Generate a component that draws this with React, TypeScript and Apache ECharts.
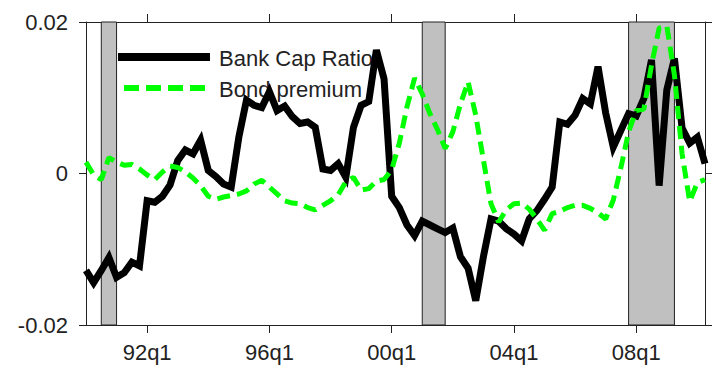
import React, { useEffect, useRef } from 'react';
import * as echarts from 'echarts';

// Quarterly categories 1990q1 .. 2010q2
const quarters: string[] = [];
for (let y = 1990; y <= 2010; y++) {
  for (let q = 1; q <= 4; q++) {
    if (y === 2010 && q > 2) break;
    quarters.push(`${y}q${q}`);
  }
}

const tickQuarters = ['1992q1', '1996q1', '2000q1', '2004q1', '2008q1'];
const tickLabels = ['92q1', '96q1', '00q1', '04q1', '08q1'];

const recessions: [string, string][] = [
  ['1990q3', '1991q1'],
  ['2001q1', '2001q4'],
  ['2007q4', '2009q2'],
];

const bankCapRatio = [
  -0.0128, -0.0144, -0.0128, -0.0111, -0.0137, -0.0131, -0.0117, -0.0122,
  -0.0036, -0.0038, -0.003, -0.0015, 0.0017, 0.0031, 0.0026, 0.0044,
  0.0004, -0.0004, -0.0014, -0.0018, 0.0048, 0.0097, 0.009, 0.0087,
  0.0108, 0.0083, 0.0089, 0.0075, 0.0066, 0.0068, 0.0061, 0.0006,
  0.0004, 0.0013, -0.0005, 0.0061, 0.009, 0.0095, 0.0163, 0.0125,
  -0.003, -0.0045, -0.0068, -0.0082, -0.0063, -0.0068, -0.0073, -0.0078,
  -0.0072, -0.011, -0.0125, -0.0168, -0.011, -0.006, -0.0063, -0.0073,
  -0.008, -0.0089, -0.006, -0.0049, -0.0034, -0.0018, 0.0068, 0.0065,
  0.0077, 0.0099, 0.0092, 0.0141, 0.008, 0.0035, 0.0057, 0.0079,
  0.0076, 0.0099, 0.015, -0.0016, 0.011, 0.0152, 0.006, 0.004,
  0.0048, 0.0013,
];

const bondPremium = [
  0.0015, -0.0002, -0.0008, 0.0021, 0.0015, 0.0011, 0.0012, 0.0006,
  -0.0002, -0.0008, 0.0002, 0.001, 0.0008, 0.0002, -0.0006, -0.0016,
  -0.003, -0.0034, -0.0031, -0.0029, -0.0027, -0.0023, -0.0014, -0.0009,
  -0.0018, -0.0027, -0.0036, -0.0039, -0.004, -0.0045, -0.0048, -0.0042,
  -0.0036, -0.0028, -0.0011, -0.0005, -0.0022, -0.002, -0.001, -0.0008,
  0.0005, 0.004, 0.0088, 0.0126, 0.0105, 0.0079, 0.0058, 0.0033,
  0.0055, 0.0092, 0.0121, 0.0077, 0.0018, -0.004, -0.0064, -0.0048,
  -0.004, -0.0039, -0.0047, -0.006, -0.0075, -0.0053, -0.005, -0.0045,
  -0.0042, -0.0042, -0.0046, -0.0052, -0.006, -0.0035, 0.0008, 0.0055,
  0.0083, 0.0085, 0.0143, 0.0192, 0.0195, 0.013, 0.0026, -0.0037,
  -0.0012, -0.0008,
];

const seriesNames = ['Bank Cap Ratio', 'Bond premium'];

const FONT = "'Liberation Sans', Arial, sans-serif";
const AXIS_COLOR = '#222';
const TEXT_COLOR = '#222';
const GREEN = '#00ff00';

export default function App() {
  const ref = useRef<HTMLDivElement>(null);

  useEffect(() => {
    if (!ref.current) return;
    const chart = echarts.init(ref.current, undefined, { renderer: 'svg' });
    const isTick = (_i: number, v: string) => tickQuarters.indexOf(v) >= 0;
    const axisLine = { show: true, onZero: false, lineStyle: { color: AXIS_COLOR, width: 1 } };

    chart.setOption({
      animation: false,
      backgroundColor: '#fff',
      grid: { left: 86, right: 12, top: 22, bottom: 44, containLabel: false },
      xAxis: [
        {
          type: 'category',
          data: quarters,
          boundaryGap: false,
          position: 'bottom',
          axisLine,
          axisTick: { show: true, interval: isTick, length: 8, lineStyle: { color: AXIS_COLOR } },
          axisLabel: {
            show: true,
            interval: isTick,
            margin: 16,
            fontSize: 22,
            fontFamily: FONT,
            color: TEXT_COLOR,
            formatter: (v: string) => tickLabels[tickQuarters.indexOf(v)] ?? '',
          },
          splitLine: { show: false },
        },
        {
          type: 'category',
          data: quarters,
          boundaryGap: false,
          position: 'top',
          axisLine,
          axisTick: { show: true, interval: isTick, length: 8, lineStyle: { color: AXIS_COLOR } },
          axisLabel: { show: false },
          splitLine: { show: false },
        },
      ],
      yAxis: [
        {
          type: 'value',
          min: -0.02,
          max: 0.02,
          interval: 0.02,
          position: 'left',
          axisLine,
          axisTick: { show: true, length: 7, lineStyle: { color: AXIS_COLOR } },
          axisLabel: {
            margin: 18,
            fontSize: 22,
            fontFamily: FONT,
            color: TEXT_COLOR,
            formatter: (v: number) => (Math.abs(v) < 1e-9 ? '0' : v.toFixed(2)),
          },
          splitLine: { show: false },
        },
        {
          type: 'value',
          min: -0.02,
          max: 0.02,
          interval: 0.02,
          position: 'right',
          axisLine,
          axisTick: { show: true, length: 7, lineStyle: { color: AXIS_COLOR } },
          axisLabel: { show: false },
          splitLine: { show: false },
        },
      ],
      graphic: [
        {
          type: 'line',
          z: 0,
          shape: { x1: 118, y1: 57, x2: 210, y2: 57 },
          style: { stroke: '#000', lineWidth: 8 },
        },
        {
          type: 'line',
          z: 0,
          shape: { x1: 124, y1: 88, x2: 206, y2: 88 },
          style: { stroke: GREEN, lineWidth: 6, lineDash: [15, 7] },
        },
        {
          type: 'text',
          z: 0,
          x: 219,
          y: 58,
          style: {
            text: seriesNames[0],
            fill: TEXT_COLOR,
            font: `22px ${FONT}`,
            verticalAlign: 'middle',
            align: 'left',
          },
        },
        {
          type: 'text',
          z: 0,
          x: 219,
          y: 89,
          style: {
            text: seriesNames[1],
            fill: TEXT_COLOR,
            font: `22px ${FONT}`,
            verticalAlign: 'middle',
            align: 'left',
          },
        },
      ],
      series: [
        {
          name: 'recessions',
          type: 'line',
          data: bankCapRatio,
          xAxisIndex: 0,
          yAxisIndex: 0,
          showSymbol: false,
          silent: true,
          z: 1,
          lineStyle: { width: 0, opacity: 0 },
          markArea: {
            silent: true,
            itemStyle: { color: '#c0c0c0', borderColor: AXIS_COLOR, borderWidth: 1 },
            data: recessions.map(([a, b]) => [{ xAxis: a }, { xAxis: b }]),
          },
        },
        {
          name: seriesNames[0],
          type: 'line',
          data: bankCapRatio,
          xAxisIndex: 0,
          yAxisIndex: 0,
          showSymbol: false,
          z: 3,
          lineStyle: { color: '#000', width: 7, join: 'miter' },
        },
        {
          name: seriesNames[1],
          type: 'line',
          data: bondPremium,
          xAxisIndex: 0,
          yAxisIndex: 0,
          showSymbol: false,
          z: 4,
          lineStyle: { color: GREEN, width: 5, type: [13, 7] },
        },
      ],
    });

    return () => chart.dispose();
  }, []);

  return (
    <div
      ref={ref}
      style={{ position: 'fixed', left: 0, top: 0, width: 717, height: 369, background: '#fff' }}
    />
  );
}
